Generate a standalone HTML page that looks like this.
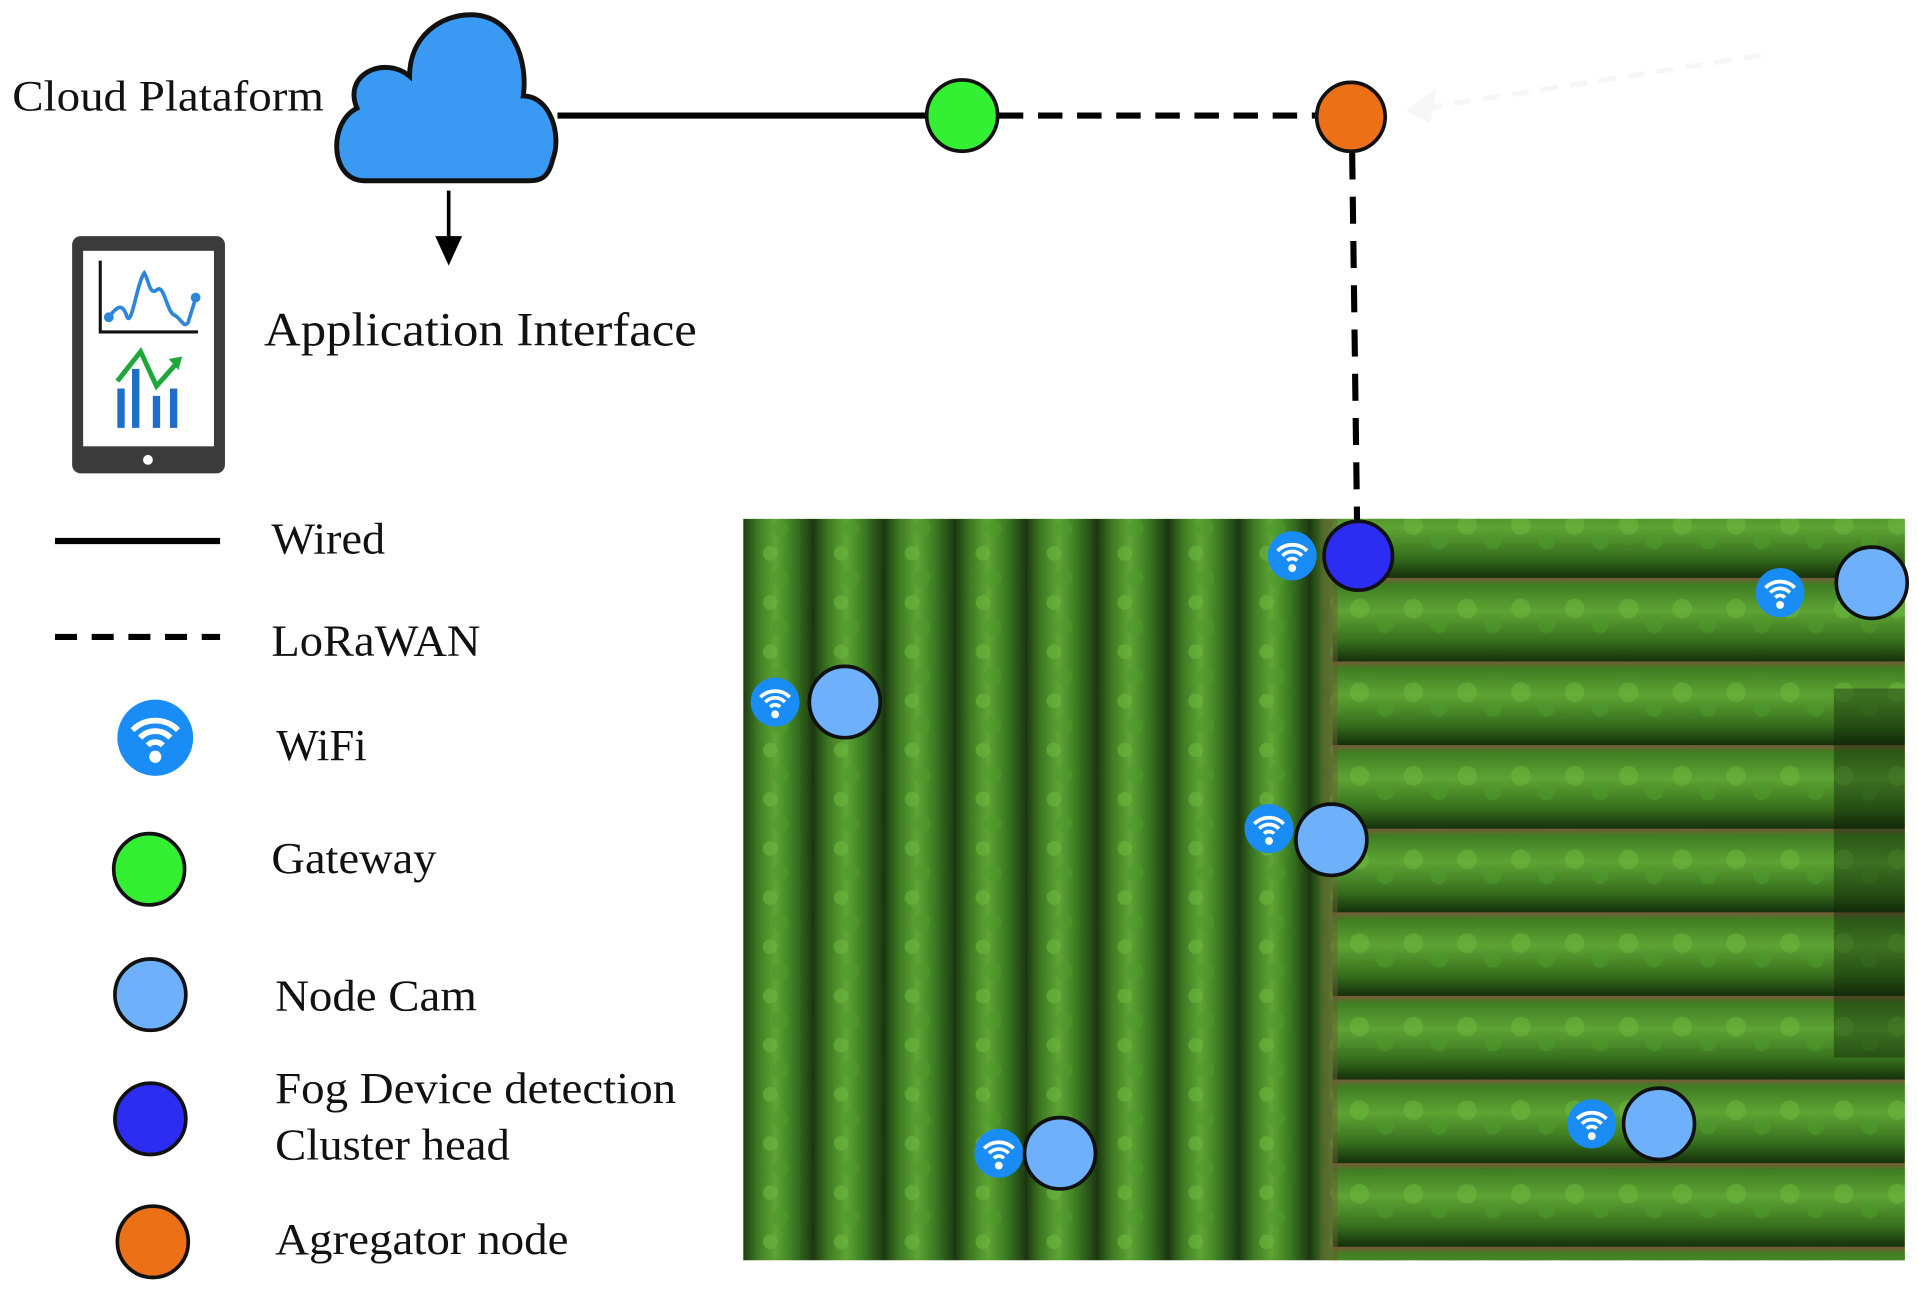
<!DOCTYPE html>
<html><head><meta charset="utf-8"><style>
html,body{margin:0;padding:0;background:#fff;width:1917px;height:1291px;overflow:hidden}
svg{display:block}
text{font-family:"Liberation Serif",serif;fill:#111}
</style></head><body>
<svg width="1917" height="1291" viewBox="0 0 1568 1050" preserveAspectRatio="none" xmlns="http://www.w3.org/2000/svg">
<defs>
<linearGradient id="vrow" x1="0" y1="0" x2="1" y2="0">
<stop offset="0" stop-color="#1e3d12"/><stop offset="0.2" stop-color="#3f7a22"/><stop offset="0.45" stop-color="#5fa535"/><stop offset="0.7" stop-color="#3c7c22"/><stop offset="1" stop-color="#1a3510"/>
</linearGradient>
<pattern id="pv" x="608" y="0" width="58" height="40" patternUnits="userSpaceOnUse">
<rect width="58" height="40" fill="url(#vrow)"/>
<circle cx="22" cy="10" r="6" fill="#6cb83e" opacity=".6"/><circle cx="30" cy="30" r="7" fill="#4e9a2c" opacity=".6"/>
</pattern>
<linearGradient id="hrow" x1="0" y1="0" x2="0" y2="1">
<stop offset="0" stop-color="#7a5a3a"/><stop offset="0.08" stop-color="#3f7d22"/><stop offset="0.4" stop-color="#5ea434"/><stop offset="0.75" stop-color="#37701d"/><stop offset="1" stop-color="#15300c"/>
</linearGradient>
<pattern id="ph" x="0" y="470" width="44" height="68" patternUnits="userSpaceOnUse">
<rect width="44" height="68" fill="url(#hrow)"/>
<circle cx="12" cy="25" r="8" fill="#6cb83e" opacity=".55"/><circle cx="33" cy="38" r="7" fill="#4e9a2c" opacity=".6"/>
</pattern>
<g id="wifi">
<circle r="20" fill="#1a8cf5"/>
<path d="M-12,-4 A17,17 0 0 1 12,-4" stroke="#fff" stroke-width="3" fill="none"/>
<path d="M-8,0 A11,11 0 0 1 8,0" stroke="#fff" stroke-width="3" fill="none"/>
<path d="M-4,4 A5.5,5.5 0 0 1 4,4" stroke="#fff" stroke-width="3" fill="none"/>
<circle cy="10" r="3.2" fill="#fff"/>
</g>
</defs>

<rect x="608" y="422" width="950" height="603" fill="url(#pv)"/>
<rect x="1090" y="422" width="468" height="603" fill="url(#ph)"/>
<rect x="1080" y="422" width="14" height="603" fill="#6b5a35" opacity=".5"/>
<rect x="1500" y="560" width="58" height="300" fill="#0e2008" opacity=".4"/>

<line x1="1440" y1="45" x2="1165" y2="88" stroke="#f6f6f6" stroke-width="4" stroke-dasharray="14 10"/>
<path d="M1150,90 L1175,72 L1170,100 Z" fill="#f6f6f6"/>

<line x1="456" y1="94" x2="760" y2="94" stroke="#000" stroke-width="5"/>
<line x1="817" y1="94" x2="1078" y2="94" stroke="#000" stroke-width="5" stroke-dasharray="20 12"/>
<line x1="1106" y1="124" x2="1110" y2="424" stroke="#000" stroke-width="5" stroke-dasharray="22 14"/>

<path d="M298,147 C270,147 268,100 292,88 C280,60 315,45 335,62 C335,30 360,12 385,12 C420,12 432,50 428,78 C450,78 460,110 452,130 C448,147 440,147 430,147 Z" fill="#3a9af3" stroke="#111" stroke-width="4"/>
<text x="10" y="90" font-size="35" textLength="255" lengthAdjust="spacingAndGlyphs">Cloud Plataform</text>

<line x1="367" y1="155" x2="367" y2="200" stroke="#000" stroke-width="3"/>
<path d="M356,192 L367,216 L378,192 Z" fill="#000"/>

<rect x="59" y="192" width="125" height="193" rx="7" fill="#3b3b3b"/>
<rect x="68" y="204" width="107" height="159" fill="#fff"/>
<circle cx="121" cy="374" r="4" fill="#fff"/>
<polyline points="82,212 82,270 162,270" stroke="#111" stroke-width="2.5" fill="none"/>
<path d="M89,258 C95,250 100,245 104,258 C108,265 112,230 118,222 C122,228 122,240 128,236 C134,230 136,252 142,256 C148,258 150,268 154,262 C156,255 158,250 160,242" stroke="#2e86d8" stroke-width="3" fill="none"/>
<circle cx="89" cy="258" r="4" fill="#2e86d8"/><circle cx="160" cy="242" r="4" fill="#2e86d8"/>
<rect x="96" y="316" width="6" height="32" fill="#1d6ec7"/><rect x="108" y="300" width="6" height="48" fill="#1d6ec7"/><rect x="125" y="322" width="6" height="26" fill="#1d6ec7"/><rect x="139" y="316" width="6" height="32" fill="#1d6ec7"/>
<polyline points="96,310 115,286 128,314 144,296" stroke="#1fa83a" stroke-width="4" fill="none"/>
<path d="M138,292 L149,290 L146,301 Z" fill="#1fa83a"/>
<text x="216" y="281" font-size="39" textLength="354" lengthAdjust="spacingAndGlyphs">Application Interface</text>

<circle cx="787" cy="94" r="29" fill="#33f033" stroke="#111" stroke-width="3"/>
<circle cx="1105" cy="95" r="28" fill="#ec7016" stroke="#111" stroke-width="3"/>

<line x1="45" y1="440" x2="180" y2="440" stroke="#000" stroke-width="5"/>
<text x="222" y="450" font-size="36" textLength="93" lengthAdjust="spacingAndGlyphs">Wired</text>
<line x1="45" y1="518" x2="180" y2="518" stroke="#000" stroke-width="5" stroke-dasharray="18 12"/>
<text x="222" y="533" font-size="36" textLength="171" lengthAdjust="spacingAndGlyphs">LoRaWAN</text>
<use href="#wifi" transform="translate(127,600) scale(1.55)"/>
<text x="226" y="618" font-size="36" textLength="74" lengthAdjust="spacingAndGlyphs">WiFi</text>
<circle cx="122" cy="707" r="29" fill="#33f033" stroke="#111" stroke-width="3"/>
<text x="222" y="710" font-size="36" textLength="135" lengthAdjust="spacingAndGlyphs">Gateway</text>
<circle cx="123" cy="809" r="29" fill="#6eb0fa" stroke="#111" stroke-width="3"/>
<text x="225" y="822" font-size="36" textLength="165" lengthAdjust="spacingAndGlyphs">Node Cam</text>
<circle cx="123" cy="910" r="29" fill="#2c2cf2" stroke="#111" stroke-width="3"/>
<text x="225" y="897" font-size="36" textLength="328" lengthAdjust="spacingAndGlyphs">Fog Device detection</text>
<text x="225" y="943" font-size="36" textLength="192" lengthAdjust="spacingAndGlyphs">Cluster head</text>
<circle cx="125" cy="1010" r="29" fill="#ec7016" stroke="#111" stroke-width="3"/>
<text x="225" y="1020" font-size="36" textLength="240" lengthAdjust="spacingAndGlyphs">Agregator node</text>

<use href="#wifi" transform="translate(1057,452)"/>
<circle cx="1111" cy="452" r="28" fill="#2c2cf2" stroke="#111" stroke-width="3"/>
<use href="#wifi" transform="translate(1456,482)"/>
<circle cx="1531" cy="474" r="29" fill="#6eb0fa" stroke="#111" stroke-width="3"/>
<use href="#wifi" transform="translate(634,571)"/>
<circle cx="691" cy="571" r="29" fill="#6eb0fa" stroke="#111" stroke-width="3"/>
<use href="#wifi" transform="translate(1038,674)"/>
<circle cx="1089" cy="683" r="29" fill="#6eb0fa" stroke="#111" stroke-width="3"/>
<use href="#wifi" transform="translate(817,938)"/>
<circle cx="867" cy="938" r="29" fill="#6eb0fa" stroke="#111" stroke-width="3"/>
<use href="#wifi" transform="translate(1302,914)"/>
<circle cx="1357" cy="914" r="29" fill="#6eb0fa" stroke="#111" stroke-width="3"/>
</svg>
</body></html>
